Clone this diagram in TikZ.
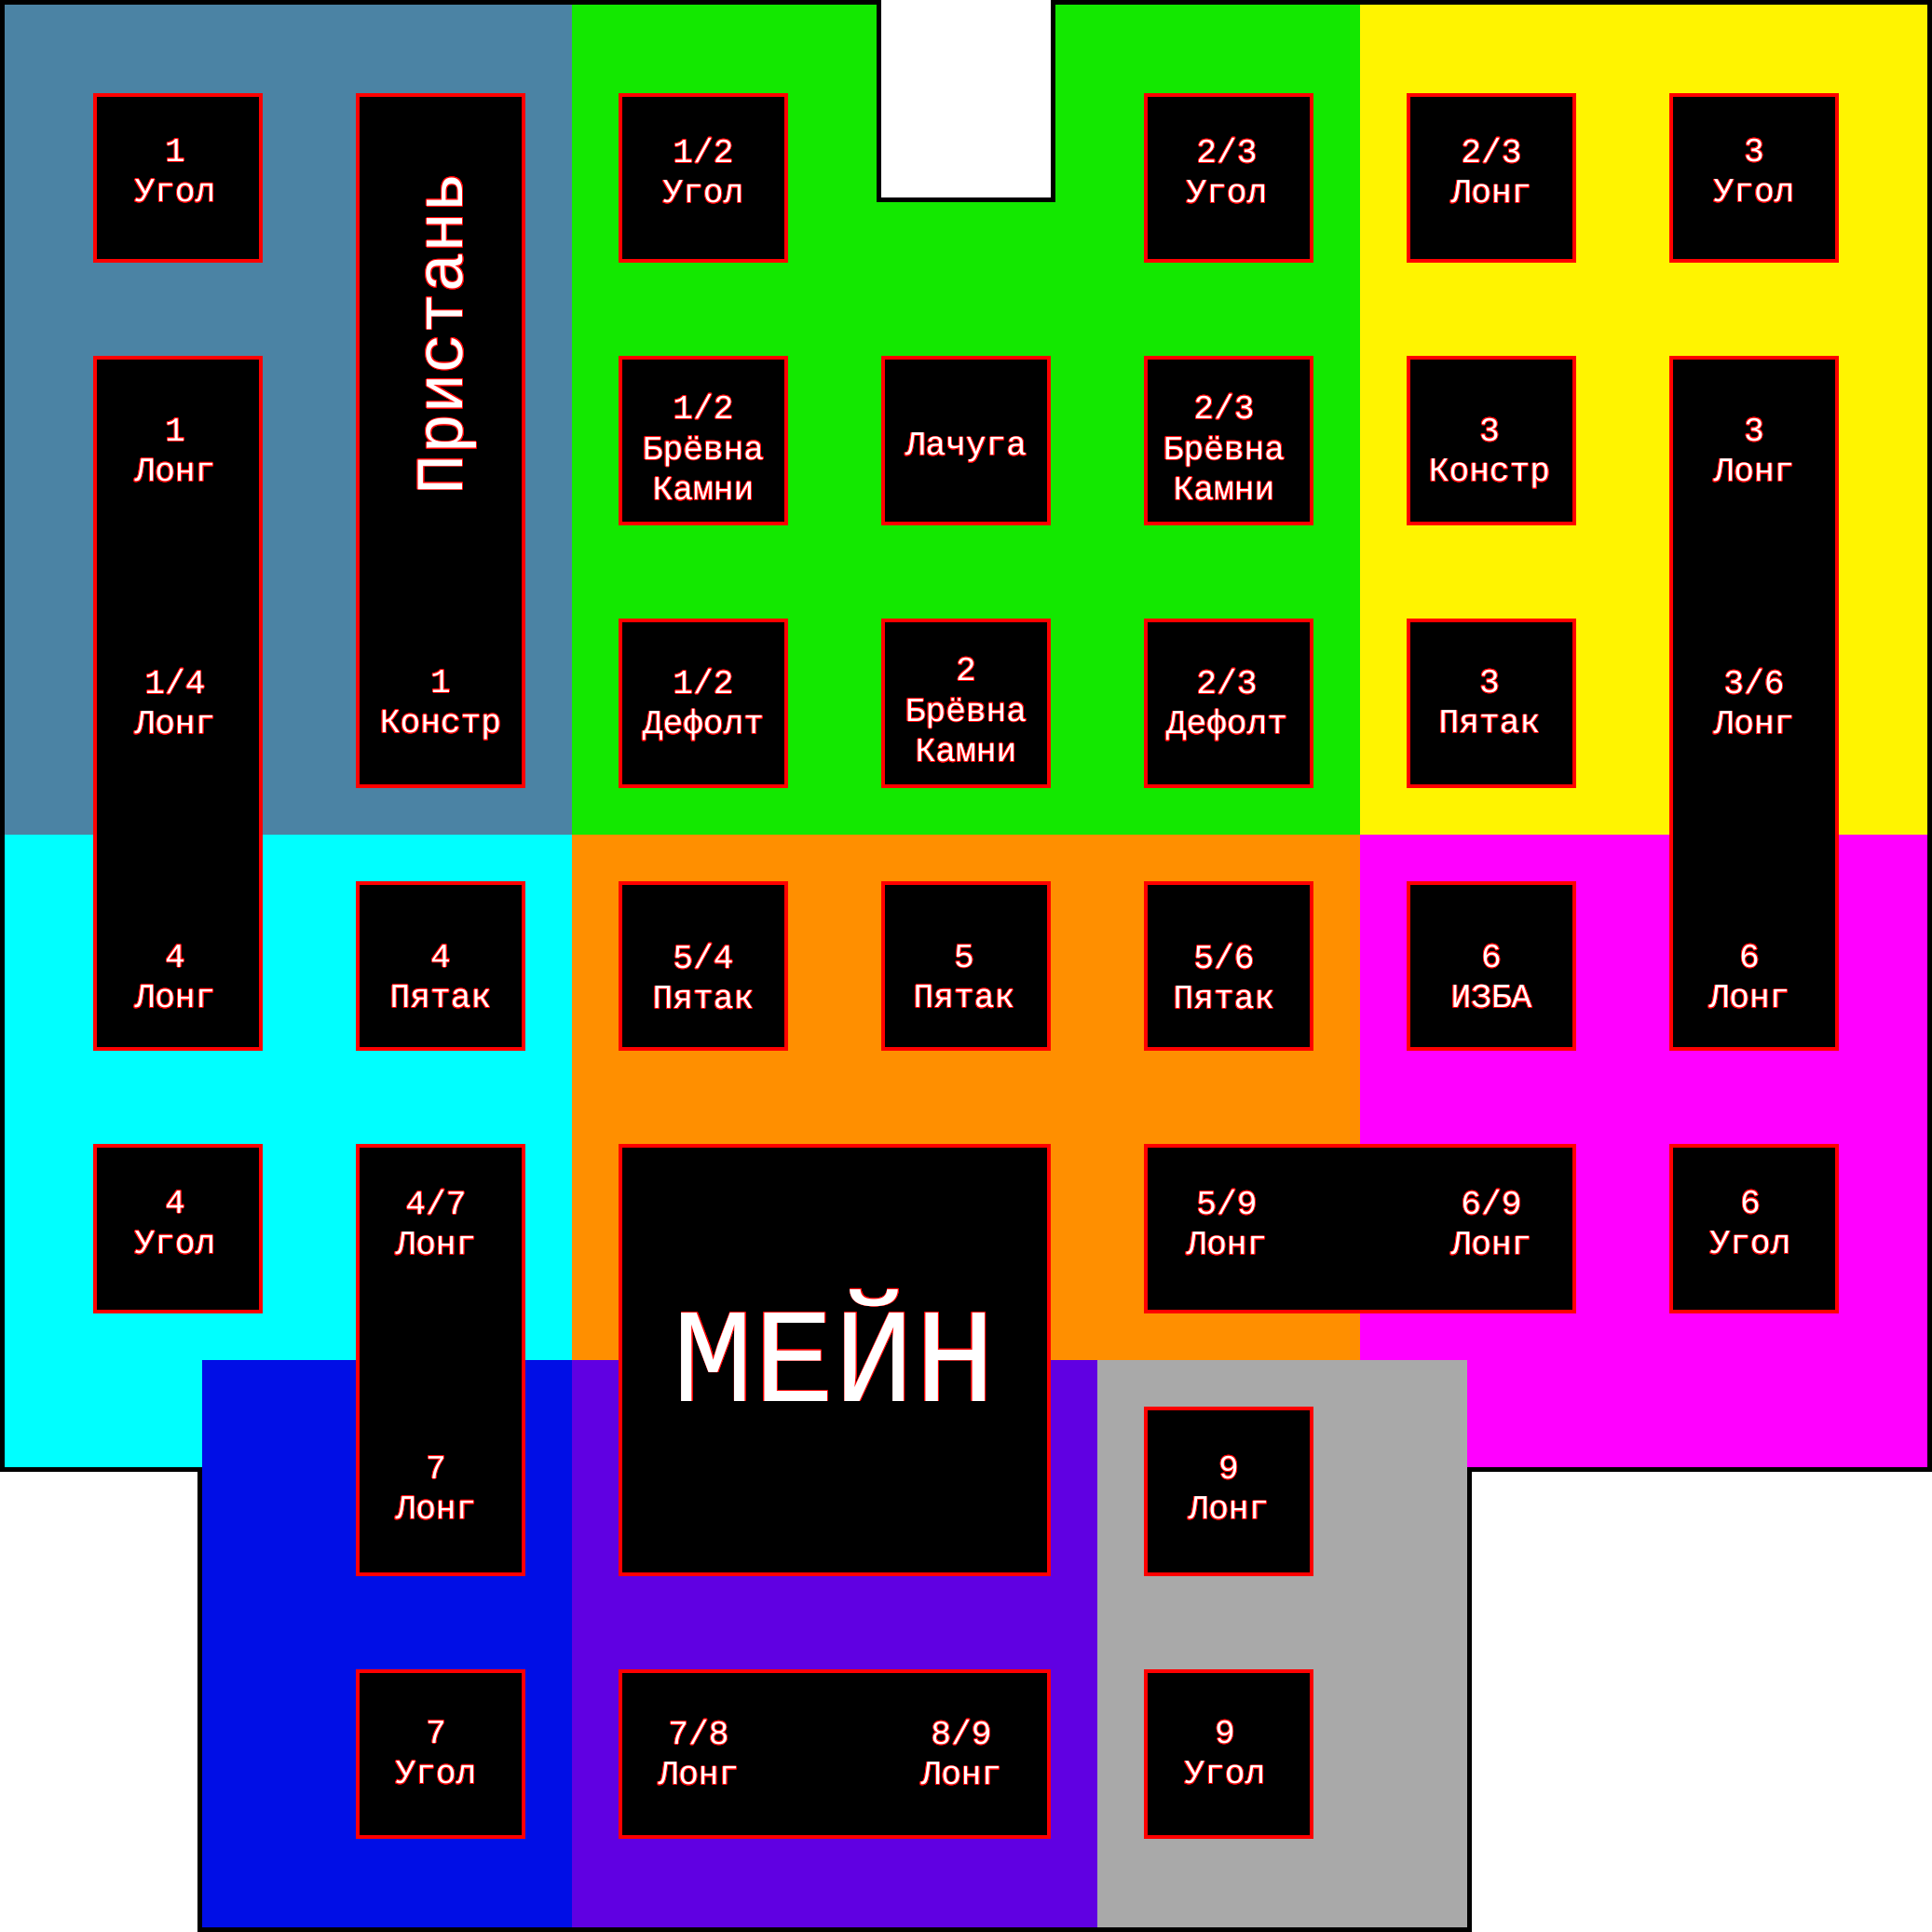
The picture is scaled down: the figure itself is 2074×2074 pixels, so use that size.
\documentclass[tikz,border=0pt]{standalone}
\usepackage{fontspec}
\setmonofont{Liberation Mono}
\usepackage{contour}
\contourlength{0.25pt}
\definecolor{steel}{HTML}{4B83A4}
\definecolor{grass}{HTML}{13E800}
\definecolor{sun}{HTML}{FFF400}
\definecolor{sea}{HTML}{00FFFF}
\definecolor{amber}{HTML}{FF8F00}
\definecolor{pink}{HTML}{FF00FF}
\definecolor{deep}{HTML}{000EE6}
\definecolor{violet}{HTML}{6000E2}
\definecolor{stone}{HTML}{A9A9A9}
\newcommand{\two}[2]{\contour{red}{#1}\\\contour{red}{#2}}
\newcommand{\three}[3]{\contour{red}{#1}\\\contour{red}{#2}\\\contour{red}{#3}}
\begin{document}
\begin{tikzpicture}[x=0.01cm,y=-0.01cm,
  font=\ttfamily\fontsize{10.3}{12.4}\selectfont,
  cell/.style={draw=red,fill=black,line width=0.04cm,minimum width=1.78cm,minimum height=1.78cm,inner sep=0pt},
  tall/.style={cell,minimum height=7.42cm},
  mid/.style={cell,minimum height=4.6cm},
  wide/.style={cell,minimum width=4.6cm},
  txt/.style={text=white,align=center,inner sep=0pt,text depth=0pt}]
  \useasboundingbox (0,0) rectangle (2074,2074);
  % zones
  \fill[steel] (5,5) rectangle (614,896);
  \fill[grass] (614,5) rectangle (1460,896);
  \fill[sun] (1460,5) rectangle (2069,896);
  \fill[sea] (5,896) rectangle (614,1575);
  \fill[amber] (614,896) rectangle (1460,1460);
  \fill[pink] (1460,896) rectangle (2069,1575);
  \fill[deep] (217,1460) rectangle (614,2069);
  \fill[violet] (614,1460) rectangle (1178,2069);
  \fill[stone] (1178,1460) rectangle (1575,2069);
  \fill[white] (943,0) rectangle (1131,214);
  % outline
  \draw[line width=0.05cm] (2.5,2.5)--(943.5,2.5)--(943.5,214.5)--(1130.5,214.5)--(1130.5,2.5)
    --(2071.5,2.5)--(2071.5,1577.5)--(1577.5,1577.5)--(1577.5,2071.5)--(214.5,2071.5)
    --(214.5,1577.5)--(2.5,1577.5)--cycle;
  % boxes
  \node[cell] (ugol1) at (191,191) {};
  \node[tall] (pristan) at (473,473) {};
  \node[cell] (ugol12) at (755,191) {};
  \node[cell] (ugol23) at (1319,191) {};
  \node[cell] (long23) at (1601,191) {};
  \node[cell] (ugol3) at (1883,191) {};
  \node[tall] (long14) at (191,755) {};
  \node[cell] (brevna12) at (755,473) {};
  \node[cell] (lachuga) at (1037,473) {};
  \node[cell] (brevna23) at (1319,473) {};
  \node[cell] (konstr3) at (1601,473) {};
  \node[tall] (long36) at (1883,755) {};
  \node[cell] (defolt12) at (755,755) {};
  \node[cell] (brevna2) at (1037,755) {};
  \node[cell] (defolt23) at (1319,755) {};
  \node[cell] (pyatak3) at (1601,755) {};
  \node[cell] (pyatak4) at (473,1037) {};
  \node[cell] (pyatak54) at (755,1037) {};
  \node[cell] (pyatak5) at (1037,1037) {};
  \node[cell] (pyatak56) at (1319,1037) {};
  \node[cell] (izba) at (1601,1037) {};
  \node[cell] (ugol4) at (191,1319) {};
  \node[mid] (long47) at (473,1460) {};
  \node[cell,minimum width=4.6cm,minimum height=4.6cm] (main) at (896,1460) {};
  \node[wide] (long569) at (1460,1319) {};
  \node[cell] (ugol6) at (1883,1319) {};
  \node[cell] (long9) at (1319,1601) {};
  \node[cell] (ugol7) at (473,1883) {};
  \node[wide] (long789) at (896,1883) {};
  \node[cell] (ugol9) at (1319,1883) {};
  % labels
  \node[txt] (t-ugol1) at (188,183) {\two{1}{Угол}};
  \node[txt,rotate=90,font=\ttfamily\fontsize{20.5}{24}\selectfont] (t-pristan) at (473,358) {\contour{red}{Пристань}};
  \node[txt] (t-konstr1) at (473,753) {\two{1}{Констр}};
  \node[txt] (t-ugol12) at (755,183) {\two{1/2}{Угол}};
  \node[txt] (t-ugol23) at (1317,183) {\two{2/3}{Угол}};
  \node[txt] (t-long23) at (1601,183) {\two{2/3}{Лонг}};
  \node[txt] (t-ugol3) at (1883,183) {\two{3}{Угол}};
  \node[txt] (t-long1) at (188,483) {\two{1}{Лонг}};
  \node[txt] (t-long14) at (188,753) {\two{1/4}{Лонг}};
  \node[txt] (t-long4) at (188,1048) {\two{4}{Лонг}};
  \node[txt] (t-brevna12) at (755,480) {\three{1/2}{Брёвна}{Камни}};
  \node[txt] (t-lachuga) at (1037,477) {\contour{red}{Лачуга}};
  \node[txt] (t-brevna23) at (1314,480) {\three{2/3}{Брёвна}{Камни}};
  \node[txt] (t-konstr3) at (1599,483) {\two{3}{Констр}};
  \node[txt] (t-long3) at (1883,483) {\two{3}{Лонг}};
  \node[txt] (t-long36) at (1883,753) {\two{3/6}{Лонг}};
  \node[txt] (t-long6) at (1878,1048) {\two{6}{Лонг}};
  \node[txt] (t-defolt12) at (755,753) {\two{1/2}{Дефолт}};
  \node[txt] (t-brevna2) at (1037,762) {\three{2}{Брёвна}{Камни}};
  \node[txt] (t-defolt23) at (1317,753) {\two{2/3}{Дефолт}};
  \node[txt] (t-pyatak3) at (1599,753) {\two{3}{Пятак}};
  \node[txt] (t-pyatak4) at (473,1048) {\two{4}{Пятак}};
  \node[txt] (t-pyatak54) at (755,1048) {\two{5/4}{Пятак}};
  \node[txt] (t-pyatak5) at (1035,1048) {\two{5}{Пятак}};
  \node[txt] (t-pyatak56) at (1314,1048) {\two{5/6}{Пятак}};
  \node[txt] (t-izba) at (1601,1048) {\two{6}{ИЗБА}};
  \node[txt] (t-ugol4) at (188,1312) {\two{4}{Угол}};
  \node[txt] (t-long47) at (468,1312) {\two{4/7}{Лонг}};
  \node[txt] (t-long7) at (468,1597) {\two{7}{Лонг}};
  \node[txt,anchor=base,font=\ttfamily\fontsize{41}{48}\selectfont] (t-main) at (896,1504) {\contour{red}{МЕЙН}};
  \node[txt] (t-long59) at (1317,1312) {\two{5/9}{Лонг}};
  \node[txt] (t-long69) at (1601,1312) {\two{6/9}{Лонг}};
  \node[txt] (t-ugol6) at (1879,1312) {\two{6}{Угол}};
  \node[txt] (t-long9) at (1319,1597) {\two{9}{Лонг}};
  \node[txt] (t-ugol7) at (468,1881) {\two{7}{Угол}};
  \node[txt] (t-long78) at (750,1881) {\two{7/8}{Лонг}};
  \node[txt] (t-long89) at (1032,1881) {\two{8/9}{Лонг}};
  \node[txt] (t-ugol9) at (1315,1881) {\two{9}{Угол}};
\end{tikzpicture}
\end{document}
